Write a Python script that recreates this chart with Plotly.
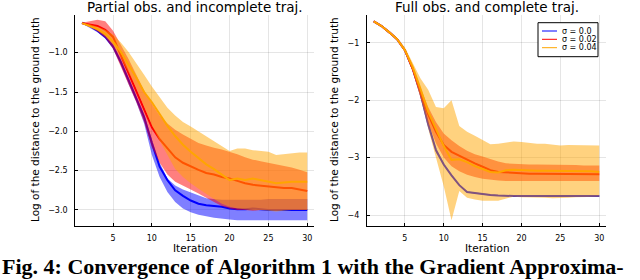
import plotly.graph_objects as go

iters = [1, 2, 3, 4, 5, 6, 7, 8, 9, 10, 11, 12, 13, 14, 15,
         16, 17, 18, 19, 20, 21, 22, 23, 24, 25, 26, 27, 28, 29, 30]

labels = ["σ = 0.0", "σ = 0.02", "σ = 0.04"]
colors = ["#0000ff", "#ff0000", "#ffa500"]
fills = ["rgba(0,0,255,0.5)", "rgba(255,0,0,0.5)", "rgba(255,165,0,0.5)"]

# ---- Left panel: partial obs. and incomplete traj.
L_blue = [-0.62, -0.66, -0.72, -0.80, -0.92, -1.12, -1.35, -1.58, -1.82, -2.15,
          -2.45, -2.62, -2.75, -2.82, -2.88, -2.92, -2.94, -2.95, -2.96, -2.98,
          -2.99, -2.99, -2.98, -2.99, -3.00, -3.00, -3.00, -3.00, -3.00, -3.00]
L_blue_hi = [-0.61, -0.65, -0.70, -0.78, -0.89, -1.08, -1.31, -1.54, -1.78, -2.10,
             -2.40, -2.60, -2.69, -2.74, -2.78, -2.82, -2.85, -2.86, -2.87, -2.87,
             -2.87, -2.87, -2.87, -2.87, -2.86, -2.86, -2.86, -2.86, -2.86, -2.86]
L_blue_lo = [-0.63, -0.68, -0.74, -0.82, -0.95, -1.16, -1.40, -1.63, -1.90, -2.30,
             -2.58, -2.77, -2.90, -2.98, -3.03, -3.06, -3.08, -3.10, -3.11, -3.12,
             -3.13, -3.13, -3.13, -3.13, -3.13, -3.13, -3.13, -3.13, -3.13, -3.13]

L_red = [-0.625, -0.64, -0.66, -0.71, -0.80, -1.03, -1.26, -1.47, -1.70, -1.95,
         -2.10, -2.22, -2.33, -2.40, -2.45, -2.49, -2.53, -2.55, -2.58, -2.60,
         -2.63, -2.66, -2.68, -2.69, -2.70, -2.71, -2.72, -2.72, -2.74, -2.76]
L_red_hi = [-0.62, -0.60, -0.58, -0.60, -0.72, -0.90, -1.08, -1.28, -1.48, -1.65,
            -1.80, -1.90, -1.98, -2.04, -2.10, -2.15, -2.18, -2.21, -2.23, -2.26,
            -2.29, -2.33, -2.36, -2.38, -2.40, -2.42, -2.44, -2.46, -2.49, -2.52]
L_red_lo = [-0.63, -0.67, -0.73, -0.81, -0.95, -1.16, -1.40, -1.63, -1.88, -2.20,
            -2.40, -2.55, -2.64, -2.69, -2.74, -2.79, -2.84, -2.90, -2.95, -2.98,
            -3.00, -3.00, -3.01, -3.00, -3.00, -3.01, -3.00, -3.00, -3.00, -3.00]

L_orange = [-0.625, -0.66, -0.70, -0.76, -0.86, -0.99, -1.15, -1.32, -1.50, -1.63,
            -1.78, -1.93, -2.06, -2.17, -2.26, -2.34, -2.42, -2.48, -2.55, -2.62,
            -2.60, -2.62, -2.60, -2.62, -2.64, -2.66, -2.65, -2.64, -2.64, -2.64]
L_orange_hi = [-0.62, -0.64, -0.67, -0.71, -0.77, -0.87, -0.99, -1.13, -1.28, -1.43,
               -1.57, -1.70, -1.80, -1.88, -1.94, -2.00, -2.06, -2.12, -2.18, -2.25,
               -2.22, -2.22, -2.24, -2.25, -2.26, -2.30, -2.29, -2.28, -2.27, -2.27]
L_orange_lo = [-0.63, -0.67, -0.72, -0.79, -0.90, -1.06, -1.25, -1.45, -1.68, -1.92,
               -2.12, -2.30, -2.48, -2.58, -2.66, -2.73, -2.80, -2.86, -2.92, -2.96,
               -2.98, -2.99, -3.00, -3.00, -3.01, -3.02, -3.01, -3.00, -3.00, -3.00]

# ---- Right panel: full obs. and complete traj.
R_blue = [-0.63, -0.71, -0.82, -0.94, -1.13, -1.45, -1.88, -2.42, -2.87, -3.12,
          -3.31, -3.48, -3.60, -3.62, -3.64, -3.65, -3.66, -3.67, -3.67, -3.67,
          -3.67, -3.67, -3.67, -3.67, -3.67, -3.67, -3.67, -3.67, -3.67, -3.67]
R_blue_hi = [-0.62, -0.70, -0.81, -0.93, -1.12, -1.43, -1.85, -2.38, -2.83, -3.10,
             -3.30, -3.47, -3.59, -3.61, -3.63, -3.64, -3.65, -3.66, -3.66, -3.66,
             -3.66, -3.66, -3.66, -3.66, -3.66, -3.66, -3.66, -3.66, -3.66, -3.66]
R_blue_lo = [-0.64, -0.72, -0.83, -0.95, -1.14, -1.47, -1.91, -2.46, -2.91, -3.14,
             -3.32, -3.49, -3.61, -3.63, -3.65, -3.66, -3.67, -3.68, -3.68, -3.68,
             -3.68, -3.68, -3.68, -3.68, -3.68, -3.68, -3.68, -3.68, -3.68, -3.68]

R_red = [-0.63, -0.71, -0.82, -0.94, -1.13, -1.45, -1.85, -2.25, -2.55, -2.78,
         -2.90, -2.97, -3.04, -3.10, -3.16, -3.22, -3.25, -3.26, -3.27, -3.28,
         -3.28, -3.28, -3.28, -3.28, -3.28, -3.28, -3.28, -3.29, -3.29, -3.29]
R_red_hi = [-0.62, -0.70, -0.81, -0.93, -1.11, -1.40, -1.78, -2.12, -2.38, -2.58,
            -2.70, -2.80, -2.88, -2.94, -2.98, -3.03, -3.07, -3.10, -3.11, -3.11,
            -3.12, -3.12, -3.12, -3.13, -3.13, -3.13, -3.13, -3.14, -3.14, -3.14]
R_red_lo = [-0.64, -0.72, -0.83, -0.95, -1.15, -1.50, -1.93, -2.40, -2.75, -3.00,
            -3.15, -3.24, -3.30, -3.34, -3.37, -3.39, -3.40, -3.41, -3.42, -3.42,
            -3.42, -3.42, -3.42, -3.42, -3.42, -3.42, -3.41, -3.41, -3.41, -3.41]

R_orange = [-0.63, -0.71, -0.82, -0.94, -1.13, -1.42, -1.80, -2.20, -2.50, -2.80,
            -3.04, -3.03, -3.08, -3.15, -3.20, -3.25, -3.26, -3.22, -3.21, -3.22,
            -3.22, -3.23, -3.23, -3.23, -3.23, -3.24, -3.24, -3.24, -3.24, -3.25]
R_orange_hi = [-0.62, -0.70, -0.80, -0.92, -1.08, -1.36, -1.62, -1.82, -2.12, -2.14,
               -2.00, -2.45, -2.55, -2.62, -2.69, -2.77, -2.76, -2.74, -2.72, -2.73,
               -2.75, -2.76, -2.76, -2.77, -2.79, -2.78, -2.78, -2.78, -2.78, -2.79]
R_orange_lo = [-0.64, -0.72, -0.83, -0.95, -1.16, -1.50, -1.95, -2.50, -3.00, -3.50,
               -4.09, -3.58, -3.70, -3.73, -3.75, -3.75, -3.75, -3.72, -3.68, -3.69,
               -3.70, -3.70, -3.70, -3.71, -3.71, -3.70, -3.69, -3.69, -3.68, -3.68]

x_ticks = [5, 10, 15, 20, 25, 30]
left_yticks = [-3.0, -2.5, -2.0, -1.5, -1.0]
right_yticks = [-4, -3, -2, -1]

titles = ["Partial obs. and incomplete traj.", "Full obs. and complete traj."]
ylabel = "Log of the distance to the ground truth"
xlabel = "Iteration"
caption = "Fig. 4: Convergence of Algorithm 1 with the Gradient Approxima-"

left_series = [(L_blue, L_blue_hi, L_blue_lo), (L_red, L_red_hi, L_red_lo),
               (L_orange, L_orange_hi, L_orange_lo)]
right_series = [(R_blue, R_blue_hi, R_blue_lo), (R_red, R_red_hi, R_red_lo),
                (R_orange, R_orange_hi, R_orange_lo)]

fig = go.Figure()


def add_panel(series, xa, ya):
    for k, (mid, hi, lo) in enumerate(series):
        fig.add_trace(go.Scatter(
            x=iters + iters[::-1], y=hi + lo[::-1], fill="toself",
            fillcolor=fills[k], line=dict(width=0), mode="lines",
            hoverinfo="skip", showlegend=False, xaxis=xa, yaxis=ya))
        fig.add_trace(go.Scatter(
            x=iters, y=mid, mode="lines", line=dict(color=colors[k], width=2),
            name=labels[k], showlegend=False, xaxis=xa, yaxis=ya))


add_panel(left_series, "x", "y")
add_panel(right_series, "x2", "y2")

W, H = 640, 280
FONT = "DejaVu Sans"

axis_common = dict(showline=True, linecolor="black", linewidth=1, mirror=False,
                   ticks="inside", ticklen=3, tickcolor="black", tickwidth=1,
                   showgrid=True, gridcolor="rgba(0,0,0,0.1)", gridwidth=0.5,
                   zeroline=False, tickfont=dict(family=FONT, size=8, color="black"),
                   ticklabelstandoff=5)

fig.update_layout(
    width=W, height=H, margin=dict(l=0, r=0, t=0, b=0),
    paper_bgcolor="white", plot_bgcolor="white", showlegend=False,
    xaxis=dict(domain=[75.2 / W, 314 / W], range=[0.13, 30.87], tickvals=x_ticks,
               anchor="y", **axis_common),
    yaxis=dict(domain=[(H - 225.7) / H, (H - 15) / H], range=[-3.20, -0.521],
               tickvals=left_yticks, tickformat=".1f", anchor="x", **axis_common),
    xaxis2=dict(domain=[367 / W, 606 / W], range=[0.13, 30.87], tickvals=x_ticks,
                anchor="y2", **axis_common),
    yaxis2=dict(domain=[(H - 225.7) / H, (H - 15) / H], range=[-4.186, -0.518],
                tickvals=right_yticks, tickformat="d", anchor="x2", **axis_common),
)

ann = []
# titles
for cx, t in zip([195, 487], titles):
    ann.append(dict(text=t, x=cx / W, y=1 - 6.5 / H, xref="paper", yref="paper",
                    xanchor="center", yanchor="middle", showarrow=False,
                    font=dict(family=FONT, size=13.5, color="black")))
# y labels
for cx in [35, 334]:
    ann.append(dict(text=ylabel, x=cx / W, y=1 - 120 / H, xref="paper", yref="paper",
                    xanchor="center", yanchor="middle", showarrow=False, textangle=-90,
                    font=dict(family=FONT, size=10.5, color="black")))
# x labels
for cx in [195, 487]:
    ann.append(dict(text=xlabel, x=cx / W, y=1 - 248 / H, xref="paper", yref="paper",
                    xanchor="center", yanchor="middle", showarrow=False,
                    font=dict(family=FONT, size=10.5, color="black")))
# caption
ann.append(dict(text="<b>" + caption + "</b>", x=0, y=1 - 266.5 / H, xref="paper",
                yref="paper", xanchor="left", yanchor="middle", showarrow=False,
                font=dict(family="Liberation Serif", size=22, color="black")))

# legend (drawn manually to match compact row spacing)
shapes = [dict(type="rect", xref="paper", yref="paper", x0=538 / W, x1=598 / W,
               y0=1 - 56.7 / H, y1=1 - 22.7 / H, line=dict(color="black", width=1),
               fillcolor="white", layer="above")]
rows = [31, 39.3, 47.7]
for k, ry in enumerate(rows):
    shapes.append(dict(type="line", xref="paper", yref="paper", x0=542 / W, x1=557 / W,
                       y0=1 - ry / H, y1=1 - ry / H, line=dict(color=colors[k], width=1),
                       layer="above"))
    ann.append(dict(text=labels[k], x=560 / W, y=1 - ry / H, xref="paper", yref="paper",
                    xanchor="left", yanchor="middle", showarrow=False,
                    font=dict(family=FONT, size=8, color="black")))

fig.update_layout(annotations=ann, shapes=shapes)
fig.write_html("out.html", config={"displayModeBar": False},
               post_script="document.body.style.margin='0';")
